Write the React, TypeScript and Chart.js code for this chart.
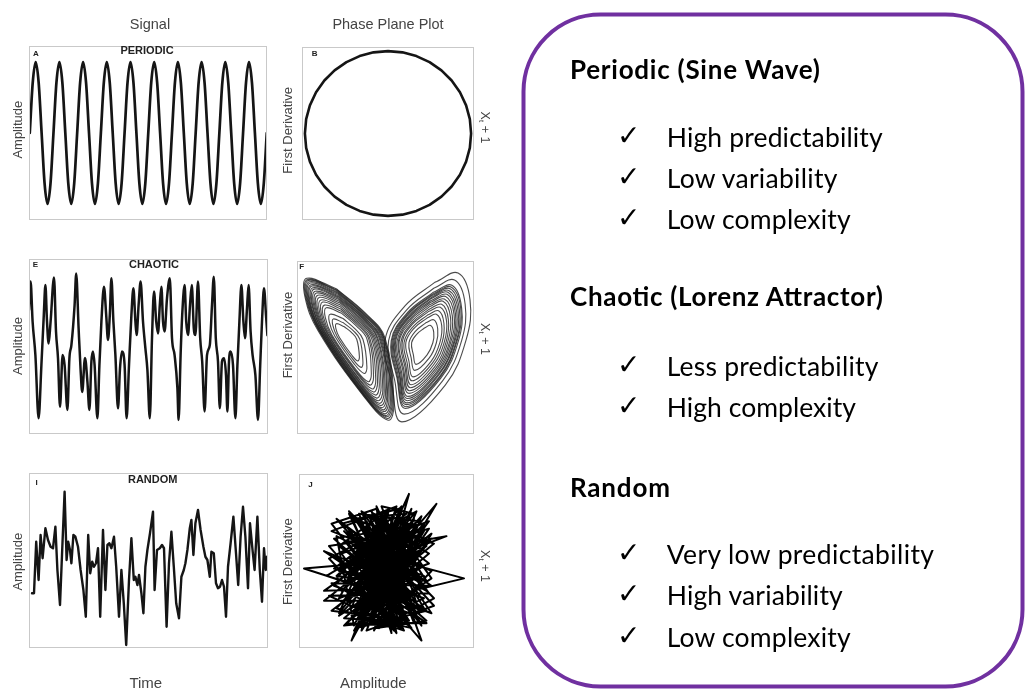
import React, { useEffect, useRef } from "react";
import { Chart, registerables } from "chart.js";

Chart.register(...registerables);

// A — periodic signal, one sample every eighth of a cycle (ten cycles)
const periodicSignal = [
  0, 0.71, 1, 0.71, 0, -0.71, -1, -0.71,
  0, 0.71, 1, 0.71, 0, -0.71, -1, -0.71,
  0, 0.71, 1, 0.71, 0, -0.71, -1, -0.71,
  0, 0.71, 1, 0.71, 0, -0.71, -1, -0.71,
  0, 0.71, 1, 0.71, 0, -0.71, -1, -0.71,
  0, 0.71, 1, 0.71, 0, -0.71, -1, -0.71,
  0, 0.71, 1, 0.71, 0, -0.71, -1, -0.71,
  0, 0.71, 1, 0.71, 0, -0.71, -1, -0.71,
  0, 0.71, 1, 0.71, 0, -0.71, -1, -0.71,
  0, 0.71, 1, 0.71, 0, -0.71, -1, -0.71,
  0,
];

// B — phase plane of the periodic signal, every 10 degrees of phase
const periodicPhaseAmp = [
  1, 0.985, 0.94, 0.866, 0.766, 0.643, 0.5, 0.342, 0.174, 0,
  -0.174, -0.342, -0.5, -0.643, -0.766, -0.866, -0.94, -0.985, -1,
  -0.985, -0.94, -0.866, -0.766, -0.643, -0.5, -0.342, -0.174, 0,
  0.174, 0.342, 0.5, 0.643, 0.766, 0.866, 0.94, 0.985, 1,
];
const periodicPhaseDeriv = [
  0, 0.174, 0.342, 0.5, 0.643, 0.766, 0.866, 0.94, 0.985, 1,
  0.985, 0.94, 0.866, 0.766, 0.643, 0.5, 0.342, 0.174, 0,
  -0.174, -0.342, -0.5, -0.643, -0.766, -0.866, -0.94, -0.985, -1,
  -0.985, -0.94, -0.866, -0.766, -0.643, -0.5, -0.342, -0.174, 0,
];

// E — chaotic signal (Lorenz x component)
const chaoticTime = [
  0, 0.4, 0.9, 1.6, 2.4, 3.1, 3.7, 4.1, 4.5, 4.9,
  5.4, 6.25, 6.75, 7.25, 7.75, 8.4, 8.9, 9.6, 10.1, 10.6,
  11.4, 11.8, 12.4, 12.9, 13.3, 14.0, 14.6, 15.1, 15.6, 16.0,
  16.4, 17.1, 17.6, 18.1, 18.75, 19.3, 19.75, 20.2, 20.6, 21.1,
  21.6, 22.25, 22.75, 23.25, 23.9, 24.4, 25.0, 25.6, 26.1, 26.6,
  26.9, 27.4, 27.9, 28.5, 29.1, 29.6, 30.2, 30.75, 31.25, 31.8,
  32.25, 32.7, 33.1, 33.5, 33.9, 34.5, 35.2, 35.75, 36.4, 37.1,
  37.4, 37.9, 38.3, 38.9, 39.3, 39.75, 40.25, 40.7, 41.2, 41.6,
  42.25, 42.8, 43.3, 43.9, 44.5, 45.2, 45.75, 46.2, 46.7, 47.25,
  47.7, 48.25, 48.75, 49.25, 49.6, 50.0, 50.4, 51.0, 51.6, 52.1,
  52.6, 53.1, 53.6, 54.0, 54.5, 54.9, 55.4, 55.9, 56.6, 57.25,
  57.8, 58.25, 58.75, 59.25, 59.6,
];
const chaoticAmp = [
  9.4, 16.5, 6.5, -1.9, -17.7, -4.4, 8.1, 15.6, 6.5, 1.0,
  6.5, 17.5, 4.0, -2.7, -14.8, -1.9, -4.4, -15.6, -2.7, 0.6,
  10.6, 18.5, 4.8, -5.6, -11.1, -2.6, -8.5, -15.6, -3.5, -1.0,
  -4.4, -17.7, -4.4, 6.5, 15.2, 8.1, 1.9, 8.1, 17.3, 6.5,
  -1.9, -15.2, -5.2, -1.0, -4.4, -17.7, -4.4, 8.1, 14.8, 6.5,
  3.1, 10.6, 16.5, 6.5, -0.2, -5.6, -17.7, 2.3, 14.0, 6.5,
  3.5, 10.6, 15.2, 6.5, 4.0, 12.3, 17.3, 2.3, -1.9, -10.2,
  -18.1, -1.9, 8.1, 15.6, 6.5, 3.1, 10.6, 15.6, 4.8, 3.1,
  16.5, 2.3, -3.5, -16.0, -1.9, 0.6, 10.6, 17.7, 2.3, -3.5,
  -15.2, -3.5, -2.7, -6.9, -16.0, -3.5, -1.0, -4.4, -17.7, -4.4,
  6.5, 15.6, 6.5, 2.3, 9.8, 15.6, 4.0, -1.9, -6.9, -18.1,
  -4.4, 6.5, 14.8, 8.1, 3.1,
];

// F — Lorenz attractor, closed orbits around the left wing (inner to outer)
const lorenzLeftWing = [
  [[-9.3, 4.8], [-7.6, 3.4], [-6.5, 1.9], [-5.9, -2.2], [-6.3, -3.1], [-7.6, -1.8], [-10.4, 2.3], [-11.2, 4.3], [-11.1, 5.5], [-9.3, 4.8]],
  [[-9.5, 5.7], [-7.3, 3.9], [-5.8, 1.9], [-5.1, -3.4], [-5.5, -4.6], [-7.3, -2.8], [-10.9, 2.5], [-11.9, 5.1], [-11.8, 6.6], [-9.5, 5.7]],
  [[-9.6, 6.7], [-7.0, 4.4], [-5.1, 1.9], [-4.2, -4.6], [-4.8, -6.0], [-7.0, -3.9], [-11.5, 2.7], [-12.7, 5.9], [-12.5, 7.7], [-9.6, 6.7]],
  [[-9.9, 7.9], [-6.6, 5.0], [-4.2, 2.0], [-3.2, -6.1], [-3.9, -7.9], [-6.6, -5.2], [-12.1, 2.9], [-13.6, 6.9], [-13.4, 9.2], [-9.9, 7.9]],
  [[-10.0, 8.4], [-6.4, 5.3], [-3.8, 2.0], [-2.7, -6.8], [-3.5, -8.7], [-6.4, -5.8], [-12.4, 3.0], [-14.1, 7.3], [-13.8, 9.8], [-10.0, 8.4]],
  [[-10.1, 8.9], [-6.2, 5.5], [-3.5, 2.0], [-2.2, -7.4], [-3.0, -9.6], [-6.2, -6.4], [-12.7, 3.1], [-14.5, 7.8], [-14.2, 10.5], [-10.1, 8.9]],
  [[-10.2, 9.4], [-6.1, 5.8], [-3.1, 2.0], [-1.8, -8.0], [-2.7, -10.3], [-6.1, -7.0], [-13.0, 3.2], [-14.9, 8.2], [-14.6, 11.0], [-10.2, 9.4]],
  [[-10.3, 9.9], [-5.9, 6.0], [-2.8, 2.1], [-1.4, -8.6], [-2.3, -11.0], [-5.9, -7.5], [-13.2, 3.3], [-15.3, 8.6], [-14.9, 11.6], [-10.3, 9.9]],
  [[-10.3, 10.3], [-5.8, 6.3], [-2.5, 2.1], [-1.0, -9.2], [-2.0, -11.7], [-5.8, -8.0], [-13.5, 3.4], [-15.6, 8.9], [-15.3, 12.1], [-10.3, 10.3]],
  [[-10.4, 10.7], [-5.6, 6.5], [-2.2, 2.1], [-0.6, -9.7], [-1.7, -12.3], [-5.6, -8.5], [-13.7, 3.5], [-15.9, 9.3], [-15.6, 12.6], [-10.4, 10.7]],
  [[-10.5, 11.1], [-5.5, 6.7], [-1.9, 2.1], [-0.3, -10.1], [-1.4, -12.9], [-5.5, -8.9], [-13.9, 3.6], [-16.2, 9.6], [-15.9, 13.0], [-10.5, 11.1]],
  [[-10.6, 11.4], [-5.4, 6.9], [-1.7, 2.1], [0.0, -10.6], [-1.1, -13.4], [-5.4, -9.3], [-14.1, 3.6], [-16.5, 9.9], [-16.1, 13.5], [-10.6, 11.4]],
  [[-10.6, 11.7], [-5.3, 7.0], [-1.4, 2.1], [0.3, -11.0], [-0.9, -13.9], [-5.3, -9.6], [-14.2, 3.7], [-16.7, 10.1], [-16.4, 13.8], [-10.6, 11.7]],
  [[-10.7, 12.0], [-5.2, 7.2], [-1.2, 2.1], [0.5, -11.3], [-0.6, -14.4], [-5.2, -9.9], [-14.4, 3.7], [-17.0, 10.4], [-16.6, 14.2], [-10.7, 12.0]],
  [[-10.7, 12.3], [-5.1, 7.3], [-1.0, 2.1], [0.8, -11.7], [-0.4, -14.8], [-5.1, -10.3], [-14.6, 3.8], [-17.2, 10.6], [-16.8, 14.5], [-10.7, 12.3]],
  [[-10.8, 12.6], [-5.0, 7.5], [-0.8, 2.2], [1.1, -12.1], [-0.2, -15.3], [-5.0, -10.6], [-14.7, 3.9], [-17.4, 10.9], [-17.0, 14.9], [-10.8, 12.6]],
  [[-10.8, 12.8], [-4.9, 7.6], [-0.6, 2.2], [1.3, -12.4], [0.0, -15.7], [-4.9, -10.9], [-14.9, 3.9], [-17.6, 11.1], [-17.2, 15.2], [-10.8, 12.8]],
  [[-10.9, 13.1], [-4.8, 7.7], [-0.4, 2.2], [1.5, -12.7], [0.2, -16.0], [-4.8, -11.1], [-15.0, 4.0], [-17.8, 11.3], [-17.4, 15.5], [-10.9, 13.1]],
  [[-10.9, 13.3], [-4.7, 7.9], [-0.3, 2.2], [1.7, -13.0], [0.4, -16.4], [-4.7, -11.4], [-15.1, 4.0], [-18.0, 11.5], [-17.6, 15.7], [-10.9, 13.3]],
  [[-11.0, 13.5], [-4.6, 8.0], [-0.1, 2.2], [1.9, -13.3], [0.6, -16.8], [-4.6, -11.7], [-15.3, 4.0], [-18.2, 11.7], [-17.8, 16.0], [-11.0, 13.5]],
];

// F — closed orbits around the right wing (inner to outer)
const lorenzRightWing = [
  [[8.8, 4.5], [10.2, 5.1], [10.9, 3.5], [10.7, 1.1], [9.4, -1.7], [6.9, -3.9], [6.3, -1.7], [5.9, 1.1], [7.1, 3.1], [8.8, 4.5]],
  [[9.1, 5.7], [10.9, 6.4], [11.8, 4.3], [11.5, 1.1], [9.9, -2.4], [6.6, -5.3], [5.8, -2.4], [5.3, 1.1], [6.8, 3.8], [9.1, 5.7]],
  [[9.4, 6.8], [11.5, 7.7], [12.7, 5.1], [12.3, 1.2], [10.3, -3.2], [6.2, -6.8], [5.3, -3.2], [4.6, 1.2], [6.5, 4.5], [9.4, 6.8]],
  [[9.5, 7.5], [12.0, 8.5], [13.2, 5.6], [12.8, 1.2], [10.6, -3.6], [6.0, -7.7], [4.9, -3.6], [4.2, 1.2], [6.3, 4.9], [9.5, 7.5]],
  [[9.7, 8.3], [12.4, 9.3], [13.8, 6.1], [13.3, 1.3], [10.8, -4.1], [5.8, -8.6], [4.6, -4.1], [3.8, 1.3], [6.1, 5.4], [9.7, 8.3]],
  [[9.8, 8.8], [12.7, 10.0], [14.2, 6.5], [13.7, 1.3], [11.1, -4.5], [5.6, -9.3], [4.4, -4.5], [3.5, 1.3], [6.0, 5.7], [9.8, 8.8]],
  [[9.9, 9.4], [13.0, 10.7], [14.7, 6.9], [14.1, 1.4], [11.3, -4.9], [5.4, -10.0], [4.1, -4.9], [3.1, 1.4], [5.9, 6.1], [9.9, 9.4]],
  [[10.0, 9.9], [13.3, 11.2], [15.1, 7.3], [14.5, 1.4], [11.5, -5.2], [5.3, -10.6], [3.9, -5.2], [2.9, 1.4], [5.7, 6.4], [10.0, 9.9]],
  [[10.1, 10.4], [13.6, 11.8], [15.5, 7.6], [14.8, 1.4], [11.7, -5.5], [5.1, -11.3], [3.6, -5.5], [2.6, 1.4], [5.6, 6.7], [10.1, 10.4]],
  [[10.2, 10.8], [13.9, 12.3], [15.8, 7.9], [15.2, 1.5], [11.8, -5.8], [5.0, -11.8], [3.4, -5.8], [2.3, 1.5], [5.5, 7.0], [10.2, 10.8]],
  [[10.3, 11.3], [14.1, 12.8], [16.1, 8.2], [15.5, 1.5], [12.0, -6.1], [4.9, -12.3], [3.2, -6.1], [2.1, 1.5], [5.4, 7.2], [10.3, 11.3]],
  [[10.4, 11.6], [14.3, 13.2], [16.4, 8.5], [15.7, 1.5], [12.1, -6.3], [4.8, -12.8], [3.1, -6.3], [1.9, 1.5], [5.3, 7.4], [10.4, 11.6]],
  [[10.5, 12.0], [14.6, 13.6], [16.7, 8.7], [16.0, 1.5], [12.3, -6.6], [4.7, -13.2], [2.9, -6.6], [1.7, 1.5], [5.2, 7.7], [10.5, 12.0]],
  [[10.6, 12.3], [14.8, 14.0], [17.0, 9.0], [16.2, 1.6], [12.4, -6.8], [4.6, -13.7], [2.7, -6.8], [1.5, 1.6], [5.1, 7.9], [10.6, 12.3]],
  [[10.7, 12.7], [15.0, 14.4], [17.2, 9.2], [16.5, 1.6], [12.5, -7.1], [4.5, -14.1], [2.6, -7.1], [1.3, 1.6], [5.0, 8.1], [10.7, 12.7]],
  [[10.9, 13.7], [15.6, 15.6], [18.0, 10.0], [17.2, 1.6], [12.9, -7.7], [4.2, -15.4], [2.1, -7.7], [0.7, 1.6], [4.8, 8.7], [10.9, 13.7]],
  [[11.2, 15.1], [16.4, 17.2], [19.1, 11.0], [18.2, 1.7], [13.5, -8.7], [3.7, -17.2], [1.5, -8.7], [-0.1, 1.7], [4.4, 9.6], [11.2, 15.1]],
];

// I — random signal
const randomTime = [
  0.75, 1.25, 1.8, 2.4, 2.9, 3.4, 4.1, 4.75, 5.4, 6.0,
  6.6, 7.1, 7.75, 8.3, 8.9, 9.4, 9.8, 10.25, 10.6, 11.1,
  11.6, 12.25, 12.9, 13.6, 14.2, 14.8, 15.3, 15.8, 16.25, 16.75,
  17.25, 17.8, 18.5, 19.1, 19.6, 20.1, 20.6, 21.25, 21.8, 22.5,
  23.1, 23.7, 24.3, 25.0, 25.6, 26.2, 26.6, 27.1, 27.5, 28.1,
  28.6, 29.1, 29.6, 30.25, 31.0, 31.4, 32.0, 32.7, 33.25, 33.75,
  34.4, 35.0, 35.6, 36.2, 36.8, 37.5, 38.1, 38.7, 39.1, 39.6,
  40.2, 40.6, 41.1, 41.6, 42.25, 42.9, 43.6, 44.1, 44.6, 45.2,
  45.6, 46.2, 46.75, 47.25, 47.75, 48.25, 48.75, 49.25, 49.75, 50.4,
  51.1, 51.75, 52.3, 52.9, 53.5, 54.1, 54.75, 55.25, 55.8, 56.4,
  57.1, 57.7, 58.25, 58.75, 59.2, 59.5,
];
const randomAmp = [
  -1.31, -1.31, 0.75, -0.78, 1.02, 0.09, 1.29, 0.82, 0.55, 0.49,
  1.35, -0.38, -1.78, 0.42, 2.75, 0.02, 0.75, 0.42, -0.11, 1.02,
  0.95, 0.55, -0.38, -1.18, -2.25, 1.02, -0.51, -0.05, -0.25, -0.11,
  0.49, -2.25, 1.22, -1.18, 0.62, 0.69, 0.49, 0.95, -0.25, -2.25,
  -0.38, -1.71, -3.38, -0.78, 0.89, -0.78, -0.65, -0.98, -0.58, -1.31,
  -2.11, -0.25, 0.42, 1.09, 1.95, -1.18, 0.42, 0.49, 0.62, 0.49,
  -2.65, -0.11, 1.15, -0.25, -1.71, -2.31, -0.65, -0.38, -0.11, 0.42,
  1.29, 1.62, 0.22, 1.49, 2.02, 1.22, 0.55, 0.15, 0.02, -0.65,
  0.35, 0.29, -0.91, -1.11, -1.05, -0.78, -1.05, -2.25, -0.25, 0.69,
  1.75, 0.29, -0.98, 0.95, 2.15, 0.95, -1.11, 1.49, 0.55, -0.38,
  1.75, -0.38, -1.65, 0.49, -0.38, 0.15,
];

// J — phase plane of the random signal (amplitude, first derivative)
const randomPhase = [
  [-0.3, -0.5], [0.8, 0.6], [-1.2, -1.4], [0.4, -0.2], [-0.9, 0.9], [1.1, -1.0], [-0.2, 1.3], [-1.5, -0.6], [0.9, 1.5], [0.1, -1.8],
  [-1.1, 0.3], [1.3, 0.2], [-0.6, -1.1], [0.5, 1.0], [-1.8, -1.2], [0.2, 0.4], [1.0, -1.6], [-0.8, 1.6], [-0.1, -0.9], [1.4, 1.1],
  [-1.3, 0.0], [0.6, -1.3], [-0.5, 0.7], [1.2, -0.4], [-1.0, -2.0], [0.3, 1.8], [-0.4, -0.1], [0.7, -2.2], [-1.6, 0.8], [1.5, 0.5],
  [-0.7, -1.7], [0.0, 0.9], [-1.9, -0.4], [0.9, -0.7], [-0.2, 2.2], [1.1, 1.9], [-1.2, -0.9], [0.4, -2.5], [-0.9, 0.2], [1.6, -1.2],
  [-0.3, 1.1], [-1.4, -1.9], [0.8, 0.1], [-0.6, -2.4], [0.2, 1.4], [1.3, -2.0], [-1.7, 1.2], [0.5, -0.8], [-2.5, 0.4], [0.0, -1.3],
  [1.8, 0.9], [-0.8, -0.6], [0.6, 2.0], [-1.1, -2.6], [1.0, 0.4], [-0.5, 1.9], [1.4, -0.9], [-1.3, 0.6], [0.3, -1.0], [-2.0, 1.7],
  [0.7, -0.3], [-0.1, -2.1], [1.2, 1.4], [-1.5, -1.3], [0.1, 0.6], [2.4, 1.0], [-0.7, -0.2], [0.9, -1.9], [-1.0, 1.3], [0.4, -1.5],
  [-3.3, -0.3], [0.2, 0.0], [-0.9, -1.6], [1.5, -0.2], [-0.4, 0.5], [0.8, -2.3], [-1.6, -0.8], [0.5, 1.6], [-0.2, -1.5], [3.1, -0.7],
  [-0.6, 0.3], [1.1, -1.4], [-1.2, 1.0], [0.0, -0.6], [0.9, 2.7], [-0.8, -1.0], [1.3, 0.7], [-1.4, -2.2], [0.6, -0.5], [-0.3, 1.6],
  [1.4, -3.2], [-1.1, -0.3], [0.3, 0.8], [-2.5, -1.2], [0.7, -1.1], [-0.5, -1.9], [1.7, 1.3], [-0.9, 0.6], [0.2, -2.9], [-0.4, 2.2],
  [1.0, -0.8], [-1.7, -0.1], [0.5, 0.3], [-1.4, -3.2], [-0.1, 0.2], [1.2, -1.7], [-0.7, 1.1], [0.4, -0.4], [2.0, 2.3], [-1.0, -1.2],
  [0.1, 1.0], [-1.3, -0.5], [0.8, -1.6], [-2.5, -1.6], [0.6, 0.8], [-0.2, -1.1], [1.5, -0.6], [-1.2, 0.4], [0.3, -2.0], [-0.8, 1.4],
  [1.1, 0.2], [-1.6, -1.6], [0.0, -0.3], [0.9, 1.2], [-0.5, -2.3], [1.3, -1.1], [-1.0, 0.8], [0.7, -0.9], [-2.0, -0.6], [0.2, 1.5],
  [-0.6, -0.7], [1.6, 0.6], [-1.3, -1.8], [0.5, -1.2], [-0.3, 0.9], [1.0, -2.1], [-1.1, 1.5], [0.4, 0.1], [-0.9, -2.0], [1.2, -0.3],
  [-0.1, -1.4], [0.8, 0.9], [-1.5, 0.1], [0.3, -0.6], [-0.7, -1.4], [1.0, 1.0], [-1.2, -0.7], [0.6, -1.8], [-0.4, 0.4], [0.9, -0.4],
  [-1.9, -2.2], [1.5, 1.5], [-2.1, 0.9], [1.6, -2.4], [-0.4, -2.7], [0.5, 2.1], [-1.8, 1.5], [1.8, -1.0], [-2.2, -0.9], [0.9, -2.6],
  [-1.0, 2.0], [1.7, 0.3], [-1.6, -2.5], [0.2, -2.6], [-2.3, 0.1], [1.2, 2.0], [-0.8, -2.8], [1.9, -1.8], [-1.5, 1.9], [0.7, -2.8],
  [-2.0, -1.9], [1.4, 1.8], [-0.3, -2.6], [1.8, -0.4], [-2.2, 1.2], [0.4, 2.2], [-1.2, -2.7], [1.6, -2.0], [-1.9, 0.6], [0.0, 2.0],
  [-0.9, -2.6], [1.5, -1.5], [-2.1, -0.3], [0.8, 1.9], [-1.4, 1.7], [1.9, 0.7], [-1.7, -2.3], [1.1, -2.5], [-0.6, 2.0], [1.7, -1.3],
  [-2.3, -1.4], [0.6, -2.7], [-1.1, 1.9], [1.3, 1.6], [-1.8, -0.2], [0.3, -2.8], [-0.2, 1.9], [1.6, -0.8], [-2.0, 1.0], [-1.3, -2.6],
  [1.0, 2.1], [-0.5, -2.8], [1.8, 1.1], [-2.2, -2.0], [0.9, -2.4], [-1.6, 1.4], [1.4, -2.6], [-0.7, 1.8], [1.7, -0.1], [-1.9, -1.5],
  [0.1, 2.1], [-1.0, -2.8], [1.5, 1.2], [-2.3, 0.6], [0.5, -2.6], [-1.5, 2.0], [1.9, -1.5], [-0.3, -2.7], [0.7, 1.7], [-2.1, -1.0],
  [1.2, -2.2], [-1.2, 1.6], [1.6, 0.9], [-1.7, -2.6], [0.2, -2.4], [-0.9, 1.9], [1.8, -2.1], [-2.0, -0.7], [0.6, 2.2], [-1.4, -2.3],
  [1.3, -0.6], [-0.4, 2.1], [-2.2, 1.5], [1.0, -2.7], [-1.1, -2.2], [1.7, 1.6], [-1.8, 0.3], [0.4, -2.9], [-0.6, 1.6], [1.5, -1.9],
  [-2.4, -0.6], [0.9, 1.4], [-1.3, -2.8], [1.8, -0.7], [-0.1, 2.0], [-1.9, -2.1], [1.1, 1.7], [-0.8, -2.5], [1.6, -2.5], [-2.1, 0.2],
];

// Summary card text
const summaryHeadings = ["Periodic (Sine Wave)", "Chaotic (Lorenz Attractor)", "Random"];
const summaryItems = [
  ["High predictability", "Low variability", "Low complexity"],
  ["Less predictability", "High complexity"],
  ["Very low predictability", "High variability", "Low complexity"],
];

type Box = { left: number; top: number; width: number; height: number };
type Pt = { x: number; y: number };

const zip = (xs: number[], ys: number[]): Pt[] => xs.map((x, i) => ({ x, y: ys[i] }));
const pairs = (list: number[][]): Pt[] => list.map(([x, y]) => ({ x, y }));

const trace = (data: Pt[], width: number, color: string, extra: Record<string, unknown> = {}) => ({
  data,
  showLine: true,
  fill: false,
  borderColor: color,
  borderWidth: width,
  pointRadius: 0,
  pointHoverRadius: 0,
  borderJoinStyle: "round",
  borderCapStyle: "round",
  ...extra,
});

function TracePanel({
  box,
  datasets,
  xRange,
  yRange,
}: {
  box: Box;
  datasets: any[];
  xRange: [number, number];
  yRange: [number, number];
}) {
  const canvasRef = useRef<HTMLCanvasElement | null>(null);

  useEffect(() => {
    const canvas = canvasRef.current;
    if (!canvas) return;
    const chart = new Chart(canvas, {
      type: "scatter",
      data: { datasets },
      options: {
        animation: false,
        responsive: false,
        maintainAspectRatio: false,
        events: [],
        layout: { padding: 0 },
        plugins: {
          legend: { display: false },
          tooltip: { enabled: false },
          title: { display: false },
        },
        scales: {
          x: { type: "linear", min: xRange[0], max: xRange[1], display: false },
          y: { type: "linear", min: yRange[0], max: yRange[1], display: false },
        },
      },
    } as any);
    return () => chart.destroy();
  }, []);

  return (
    <div
      style={{
        position: "absolute",
        left: box.left,
        top: box.top,
        width: box.width,
        height: box.height,
      }}
    >
      <canvas
        ref={canvasRef}
        width={box.width}
        height={box.height}
        style={{ display: "block", width: box.width, height: box.height }}
      />
      <div
        style={{
          position: "absolute",
          inset: 0,
          border: "1.5px solid #c9c9c9",
          boxSizing: "border-box",
          pointerEvents: "none",
        }}
      />
    </div>
  );
}

const INK = "#151515";

export default function App() {
  const sans = "'Liberation Sans', Arial, Helvetica, sans-serif";
  const card = "Lato, 'Noto Sans', sans-serif";
  const labelColor = "#444";

  const periodicDatasets = [
    trace(periodicSignal.map((v, i) => ({ x: i, y: v })), 2.7, INK, { cubicInterpolationMode: "monotone" }),
  ];
  const circleDatasets = [trace(zip(periodicPhaseAmp, periodicPhaseDeriv), 2.6, INK)];
  const chaoticDatasets = [
    trace(zip(chaoticTime, chaoticAmp), 2.5, INK, { cubicInterpolationMode: "monotone" }),
  ];
  const lorenzDatasets = [...lorenzLeftWing, ...lorenzRightWing].map((loop) =>
    trace(pairs(loop), 1.1, "rgba(30,30,30,0.8)", { tension: 0.4 })
  );
  const randomDatasets = [trace(zip(randomTime, randomAmp), 2.4, INK)];
  const randomPhaseDatasets = [trace(pairs(randomPhase), 2, "#000")];

  // baselines for the summary card rows
  const headingY = [79, 305.5, 497.3];
  const itemY = [
    [146.7, 187.7, 229.3],
    [376, 417.3],
    [564.3, 605, 646.7],
  ];
  const headingWidth = [250, 313, 100];
  const itemWidth = [
    [216, 170.7, 184],
    [211.7, 189.3],
    [267.3, 176, 184],
  ];

  const vLabel = (text: string, x: number, y: number, angle: number) => (
    <text
      transform={`translate(${x},${y}) rotate(${angle})`}
      textAnchor="middle"
      fontFamily={sans}
      fontSize={13}
      fill={labelColor}
    >
      {text}
    </text>
  );
  const lagLabel = (x: number, y: number) => (
    <text
      transform={`translate(${x},${y}) rotate(90)`}
      textAnchor="middle"
      fontFamily={sans}
      fontSize={12.5}
      fill={labelColor}
    >
      X<tspan fontSize={8} dy={2}>t</tspan>
      <tspan dy={-2}> + 1</tspan>
    </text>
  );
  const panelTitle = (text: string, x: number, y: number) => (
    <text x={x} y={y} textAnchor="middle" fontFamily={sans} fontWeight="bold" fontSize={11} fill="#222">
      {text}
    </text>
  );
  const panelLetter = (text: string, x: number, y: number) => (
    <text x={x} y={y} textAnchor="middle" fontFamily={sans} fontWeight="bold" fontSize={8} fill="#222">
      {text}
    </text>
  );

  return (
    <div
      style={{
        position: "absolute",
        left: 0,
        top: 0,
        width: 1026,
        height: 689,
        background: "#fff",
        overflow: "hidden",
      }}
    >
      <TracePanel box={{ left: 29, top: 46, width: 238, height: 174 }} datasets={periodicDatasets} xRange={[-0.26, 80.08]} yRange={[-1.225, 1.225]} />
      <TracePanel box={{ left: 302, top: 47, width: 172, height: 173 }} datasets={circleDatasets} xRange={[-1.035, 1.035]} yRange={[-1.05, 1.05]} />
      <TracePanel box={{ left: 29, top: 259, width: 239, height: 175 }} datasets={chaoticDatasets} xRange={[0, 59.75]} yRange={[-21.625, 22.125]} />
      <TracePanel box={{ left: 297, top: 261, width: 177, height: 173 }} datasets={lorenzDatasets} xRange={[-20, 20]} yRange={[-20, 20]} />
      <TracePanel box={{ left: 29, top: 473, width: 239, height: 175 }} datasets={randomDatasets} xRange={[0, 59.75]} yRange={[-3.5, 3.5]} />
      <TracePanel box={{ left: 299, top: 474, width: 175, height: 174 }} datasets={randomPhaseDatasets} xRange={[-3.5, 3.5]} yRange={[-3.5, 3.5]} />

      <svg
        width={1026}
        height={689}
        style={{ position: "absolute", left: 0, top: 0, pointerEvents: "none" }}
      >
        {/* column headers */}
        <text x={150} y={29} textAnchor="middle" fontFamily={sans} fontSize={14.5} fill={labelColor}>
          Signal
        </text>
        <text x={388} y={29} textAnchor="middle" fontFamily={sans} fontSize={14.5} fill={labelColor}>
          Phase Plane Plot
        </text>

        {/* panel titles and letters */}
        {panelTitle("PERIODIC", 147, 53.5)}
        {panelTitle("CHAOTIC", 154, 267.5)}
        {panelTitle("RANDOM", 152.7, 482.5)}
        {panelLetter("A", 36, 56)}
        {panelLetter("B", 314.7, 56)}
        {panelLetter("E", 35.3, 266.7)}
        {panelLetter("F", 301.7, 269)}
        {panelLetter("I", 36.7, 485)}
        {panelLetter("J", 310.5, 487)}

        {/* axis labels */}
        {vLabel("Amplitude", 21.5, 129.7, -90)}
        {vLabel("Amplitude", 21.5, 346, -90)}
        {vLabel("Amplitude", 21.5, 561.7, -90)}
        {vLabel("First Derivative", 291.5, 130.3, -90)}
        {vLabel("First Derivative", 291.5, 335, -90)}
        {vLabel("First Derivative", 291.5, 561.7, -90)}
        {lagLabel(480.5, 127.5)}
        {lagLabel(480.5, 339)}
        {lagLabel(480.5, 566)}
        <text x={145.8} y={688} textAnchor="middle" fontFamily={sans} fontSize={15} fill={labelColor}>
          Time
        </text>
        <text x={373.3} y={688} textAnchor="middle" fontFamily={sans} fontSize={15} fill={labelColor}>
          Amplitude
        </text>

        {/* summary card */}
        <rect x={523.5} y={14.5} width={499} height={672} rx={77} ry={77} fill="none" stroke="#7030A0" strokeWidth={4} />
        {summaryHeadings.map((h, gi) => (
          <g key={h}>
            <text
              x={570}
              y={headingY[gi]}
              fontFamily={card}
              fontWeight="bold"
              fontSize={26}
              fill="#000"
              textLength={headingWidth[gi]}
              lengthAdjust="spacing"
            >
              {h}
            </text>
            {summaryItems[gi].map((item, ii) => (
              <g key={item + ii}>
                <text x={617} y={itemY[gi][ii] - 2} fontFamily="'DejaVu Sans', sans-serif" fontSize={28} fill="#000">
                  ✓
                </text>
                <text
                  x={666.7}
                  y={itemY[gi][ii]}
                  fontFamily={card}
                  fontSize={26.5}
                  fill="#000"
                  textLength={itemWidth[gi][ii]}
                  lengthAdjust="spacing"
                >
                  {item}
                </text>
              </g>
            ))}
          </g>
        ))}
      </svg>
    </div>
  );
}
